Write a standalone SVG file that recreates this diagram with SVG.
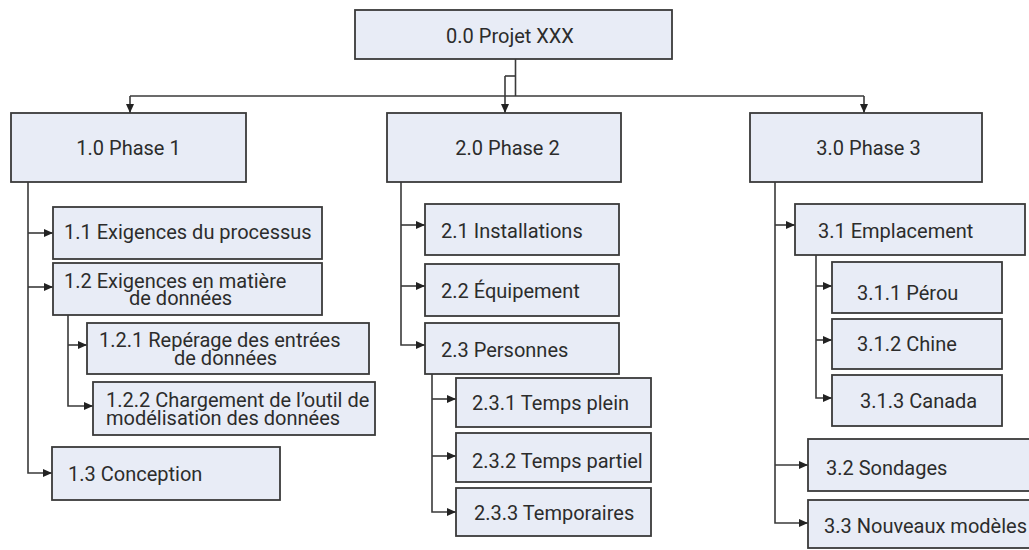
<svg xmlns="http://www.w3.org/2000/svg" width="1029" height="550" viewBox="0 0 1029 550">
<style>
.box{fill:#e8ecf6;stroke:#3a3a3a;stroke-width:1.8}
.t{font-family:Roboto,"Liberation Sans",sans-serif;font-size:20px;fill:#2c2c2c}
.c{text-anchor:middle}
.ln{fill:none;stroke:#3a3a3a;stroke-width:1.6}
.ar{marker-end:url(#ah)}
</style>
<defs>
<marker id="ah" markerUnits="userSpaceOnUse" markerWidth="9" markerHeight="8" refX="9" refY="4" orient="auto">
<path d="M0,0 L9,4 L0,8 z" fill="#222"/>
</marker>
</defs>
<rect width="1029" height="550" fill="#fff"/>
<g id="connectors">
<path class="ln" d="M515.5,59 V96"/>
<path class="ln" d="M505,76 H515.5"/>
<path class="ln ar" d="M505,76 V113"/>
<path class="ln" d="M130,96 H864"/>
<path class="ln ar" d="M130,96 V113"/>
<path class="ln ar" d="M864,96 V113"/>
<path class="ln ar" d="M28,182 V473 H52"/>
<path class="ln ar" d="M28,233 H53"/>
<path class="ln ar" d="M28,287 H53"/>
<path class="ln ar" d="M68,315 V406 H93"/>
<path class="ln ar" d="M68,345 H87"/>
<path class="ln ar" d="M401,182 V345 H425"/>
<path class="ln ar" d="M401,225 H425"/>
<path class="ln ar" d="M401,286 H425"/>
<path class="ln ar" d="M432,374 V512 H456"/>
<path class="ln ar" d="M432,399 H456"/>
<path class="ln ar" d="M432,456 H456"/>
<path class="ln ar" d="M775,182 V523 H808"/>
<path class="ln ar" d="M775,225 H795"/>
<path class="ln ar" d="M775,465 H808"/>
<path class="ln ar" d="M816,255 V398 H832"/>
<path class="ln ar" d="M816,286 H832"/>
<path class="ln ar" d="M816,340 H832"/>
</g>
<g id="n0"><rect class="box" x="355" y="10" width="317" height="49"/><text class="t c" x="510" y="43">0.0 Projet XXX</text></g>
<g id="n1"><rect class="box" x="11" y="113" width="235" height="69"/><text class="t c" x="128.5" y="155">1.0 Phase 1</text></g>
<g id="n2"><rect class="box" x="387" y="113" width="234" height="69"/><text class="t c" x="507.5" y="155">2.0 Phase 2</text></g>
<g id="n3"><rect class="box" x="750" y="113" width="232" height="69"/><text class="t c" x="868.5" y="155">3.0 Phase 3</text></g>
<g id="n1-1"><rect class="box" x="53" y="207" width="269" height="52"/><text class="t" x="64" y="239">1.1 Exigences du processus</text></g>
<g id="n1-2"><rect class="box" x="53" y="263" width="269" height="52"/><text class="t" x="64" y="288">1.2 Exigences en matière</text><text class="t" x="129" y="305">de données</text></g>
<g id="n1-2-1"><rect class="box" x="87" y="323" width="282" height="51"/><text class="t" x="99" y="347">1.2.1 Repérage des entrées</text><text class="t" x="174" y="365">de données</text></g>
<g id="n1-2-2"><rect class="box" x="93" y="382" width="282" height="53"/><text class="t" x="106" y="407">1.2.2 Chargement de l’outil de</text><text class="t" x="106" y="425">modélisation des données</text></g>
<g id="n1-3"><rect class="box" x="52" y="447" width="228" height="53"/><text class="t" x="68" y="481">1.3 Conception</text></g>
<g id="n2-1"><rect class="box" x="425" y="204" width="194" height="51"/><text class="t" x="441" y="238">2.1 Installations</text></g>
<g id="n2-2"><rect class="box" x="425" y="264" width="194" height="52"/><text class="t" x="441" y="298">2.2 Équipement</text></g>
<g id="n2-3"><rect class="box" x="425" y="323" width="194" height="51"/><text class="t" x="441" y="357">2.3 Personnes</text></g>
<g id="n2-3-1"><rect class="box" x="456" y="378" width="195" height="49"/><text class="t" x="472" y="410">2.3.1 Temps plein</text></g>
<g id="n2-3-2"><rect class="box" x="456" y="433" width="195" height="49"/><text class="t" x="472" y="468">2.3.2 Temps partiel</text></g>
<g id="n2-3-3"><rect class="box" x="456" y="488" width="195" height="48"/><text class="t" x="474" y="520">2.3.3 Temporaires</text></g>
<g id="n3-1"><rect class="box" x="795" y="204" width="230" height="51"/><text class="t" x="818" y="238">3.1 Emplacement</text></g>
<g id="n3-1-1"><rect class="box" x="832" y="262" width="170" height="51"/><text class="t" x="857" y="300">3.1.1 Pérou</text></g>
<g id="n3-1-2"><rect class="box" x="832" y="319" width="170" height="50"/><text class="t" x="857" y="351">3.1.2 Chine</text></g>
<g id="n3-1-3"><rect class="box" x="832" y="375" width="170" height="51"/><text class="t" x="860" y="408">3.1.3 Canada</text></g>
<g id="n3-2"><rect class="box" x="808" y="439" width="230" height="52"/><text class="t" x="826" y="475">3.2 Sondages</text></g>
<g id="n3-3"><rect class="box" x="808" y="500" width="230" height="48"/><text class="t" x="824" y="533">3.3 Nouveaux modèles</text></g>
</svg>
